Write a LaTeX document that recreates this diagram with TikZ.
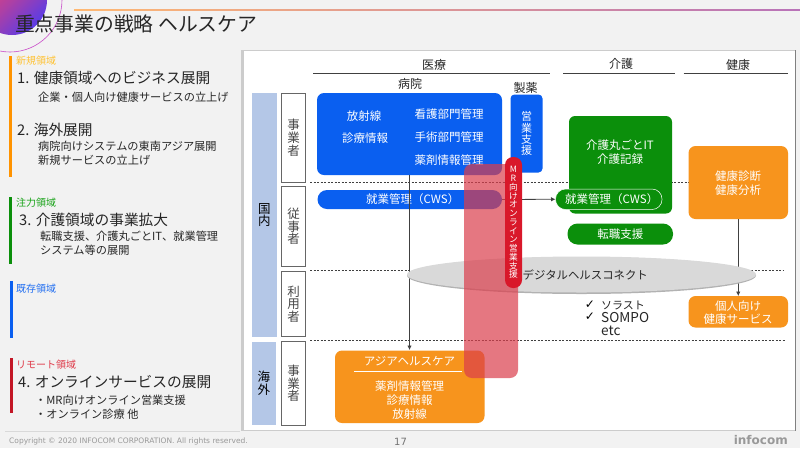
\documentclass[tikz,border=0pt]{standalone}
\usepackage{fontspec}
\setmainfont{Noto Sans CJK JP}
\newfontfamily\latinf{DejaVu Sans}
\usetikzlibrary{arrows.meta,shapes.geometric}
\definecolor{bgc}{HTML}{F2F2F2}
\definecolor{bluec}{HTML}{0A5FF0}
\definecolor{greenc}{HTML}{0B8F0B}
\definecolor{orangec}{HTML}{F7941D}
\definecolor{panelc}{HTML}{B4C7E7}
\definecolor{redc}{HTML}{D9182A}
\definecolor{pinkc}{HTML}{DB3E4C}
\definecolor{darkc}{HTML}{262626}
\definecolor{linec}{HTML}{404040}
\definecolor{hotc}{HTML}{F2436E}
\definecolor{purplec}{HTML}{5A3CE6}
\newcommand{\fs}[1]{\fontsize{#1}{#1}\selectfont}
\newcommand{\fsv}[2]{\fontsize{#1}{#2}\selectfont}
\newcommand{\bx}[7]{\node[#6,anchor=north west,inner sep=0pt,outer sep=0pt,minimum width={(#4-#2)*1pt},minimum height={(#5-#3)*1pt}] (#1) at (#2,#3) {#7};}
\tikzset{
  cattag/.style={anchor=west,inner sep=0pt,font=\fs{10}},
  headtext/.style={anchor=west,inner sep=0pt,font=\fs{14.7},text=darkc},
  subtext/.style={anchor=west,inner sep=0pt,font=\fs{11.2},text=darkc},
  rowbox/.style={draw=black!60,line width=.7pt,fill=white,align=center,text=darkc!85,font=\fsv{12.5}{12.6}},
  regionbox/.style={fill=panelc,align=center,text=black,font=\fsv{12.5}{12.6}},
  blk/.style={fill=bluec,rounded corners=7pt,text=white},
  grn/.style={fill=greenc,rounded corners=6pt,text=white},
  org/.style={fill=orangec,rounded corners=7pt,text=white},
  lbl/.style={inner sep=0pt,text=white,font=\fs{11.5},align=center},
  sect/.style={inner sep=0pt,text=darkc,font=\fs{12}},
  hrule/.style={line width=.8pt,draw=linec},
  dashline/.style={dash pattern=on 2pt off 1.5pt,line width=.6pt,draw=linec},
  arr/.style={line width=.8pt,draw=linec,-{Latex[length=4.5pt,width=4.5pt]}},
}
\begin{document}
\begin{tikzpicture}[x=1pt,y=-1pt]
\useasboundingbox (0,0) rectangle (800,448);
\fill[bgc] (0,0) rectangle (800,448);
% corner ornament
\begin{scope}
\clip (0,0) rectangle (800,448);
\shade[left color=hotc,right color=purplec,middle color=hotc!55!purplec,shading angle=45] (12,0) circle (35);
\draw[violet!60!magenta!70,line width=.6pt] (10,0) circle (52);
\end{scope}
\shade[left color=orange!55,right color=violet!55] (74,9.6) rectangle (800,10.4);
\node[anchor=west,inner sep=0pt,font=\fs{19.8},text=darkc] (title) at (15,24) {重点事業の戦略 ヘルスケア};
% left column bars
\fill[orange!85!yellow] (9,56) rectangle (12,177);
\fill[greenc] (9,197) rectangle (12,264);
\fill[bluec] (10,281) rectangle (13,338);
\fill[redc!90!black] (10,358) rectangle (13,413);
% left texts
\node[cattag,text=orange!60!yellow!80!white] (t1) at (16,61) {新規領域};
\node[headtext] (t2) at (17,78) {1. 健康領域へのビジネス展開};
\node[subtext] (t3) at (38,97) {企業・個人向け健康サービスの立上げ};
\node[headtext] (t4) at (17,130) {2. 海外展開};
\node[subtext] (t5) at (38,146) {病院向けシステムの東南アジア展開};
\node[subtext] (t6) at (38,160.5) {新規サービスの立上げ};
\node[cattag,text=green!60!black!90!white] (t7) at (16,203) {注力領域};
\node[headtext] (t8) at (19,220) {3. 介護領域の事業拡大};
\node[subtext] (t9) at (40,236.5) {転職支援、介護丸ごとIT、就業管理};
\node[subtext] (t10) at (40,250.5) {システム等の展開};
\node[cattag,text=bluec!90] (t11) at (16,289) {既存領域};
\node[cattag,text=redc!85] (t12) at (16,365) {リモート領域};
\node[headtext] (t13) at (18,382) {4. オンラインサービスの展開};
\node[subtext] (t14) at (35,400) {・MR向けオンライン営業支援};
\node[subtext] (t15) at (35,414) {・オンライン診療 他};
% right panel
\fill[black!20] (241,50) rectangle (795,430.5);
\fill[black!50] (795,50) rectangle (796,430.5);
\fill[white] (243.5,51) rectangle (795,429.5);
\draw[black!15,line width=.8pt] (5,431) -- (240,431);
% headers
\node[sect] (h1) at (434,65) {医療};
\node[sect] (h2) at (621,64) {介護};
\node[sect] (h3) at (738,64.5) {健康};
\node[sect] (h4) at (410,84) {病院};
\node[sect] (h5) at (525.5,88) {製薬};
\draw[hrule] (313,73.5) -- (550,73.5);
\draw[hrule] (563,73.5) -- (675,73.5);
\draw[hrule] (683.5,73.5) -- (788,73.5);
% dashed separators
\draw[dashline] (310,182.5) -- (690,182.5);
\draw[dashline] (310,270.5) -- (783,270.5);
\draw[dashline] (310,340) -- (786,340);
% region and row boxes
\bx{dom}{252}{93}{276.5}{337}{regionbox}{国\\内}
\bx{ovs}{251.5}{342}{276}{425}{regionbox}{海\\外}
\bx{r1}{281.5}{93.5}{305.5}{182}{rowbox}{事\\業\\者}
\bx{r2}{281.5}{186}{305.5}{266.5}{rowbox}{従\\事\\者}
\bx{r3}{281.5}{271.5}{305.5}{336.5}{rowbox}{利\\用\\者}
\bx{r4}{281.5}{341.5}{305.5}{425}{rowbox}{事\\業\\者}
% main boxes
\bx{hosp}{317}{93}{502}{175}{blk}{}
\bx{pharma}{510.5}{94.5}{542.5}{172.5}{fill=bluec,rounded corners=4pt,text=white,align=center,font=\fsv{11}{11.3}}{営\\業\\支\\援}
\bx{care}{569}{116}{672}{213.5}{grn}{}
\bx{kenko}{688.5}{146}{788}{219}{org}{}
\bx{kojin}{688.5}{296}{788}{327.5}{org}{}
\bx{cwsb}{317.5}{190}{502}{209}{fill=bluec,rounded corners=9.5pt,text=white,font=\fs{11.5}}{\hspace{6pt}就業管理（CWS）}
\bx{cwsg}{555.5}{189}{662}{209.5}{fill=greenc,draw=white,line width=.5pt,rounded corners=10pt,text=white,font=\fs{11.5}}{\hspace{6pt}就業管理（CWS）}
\bx{tenshoku}{567.5}{223.5}{673}{244.5}{fill=greenc,rounded corners=10pt,text=white,font=\fs{11.5}}{転職支援}
% connectors
\draw[arr] (hosp.south) -- (409.5,350);
\draw[arr] (cwsb.east) -- (cwsg.west);
\draw[arr] (kenko.south) -- (kojin.north);
% ellipse
\fill[black!30] (581.5,275.5) ellipse (174.5 and 18.5);
\node[draw=none,fill=black!15,ellipse,minimum width=349pt,minimum height=36pt,inner sep=0pt] (dhc) at (581.5,274.5) {};
% Asia box
\bx{asia}{335}{350.5}{484.5}{423}{org}{}
\node[lbl] (a1) at (409.5,361) {アジアヘルスケア};
\draw[white,line width=.6pt] (354,371.5) -- (462,371.5);
\node[lbl] (a2) at (409.5,386) {薬剤情報管理};
\node[lbl] (a3) at (409.5,400) {診療情報};
\node[lbl] (a4) at (409.5,414) {放射線};
% hospital labels
\node[lbl] (b1) at (364,116) {放射線};
\node[lbl] (b2) at (365,138.5) {診療情報};
\node[lbl] (b3) at (449,114) {看護部門管理};
\node[lbl] (b4) at (449,137) {手術部門管理};
\node[lbl] (b5) at (449,160) {薬剤情報管理};
% care and health labels
\node[lbl] (c1) at (620,145) {介護丸ごとIT};
\node[lbl] (c2) at (620,159) {介護記録};
\node[lbl] (k1) at (738,176.5) {健康診断};
\node[lbl] (k2) at (738,190.5) {健康分析};
\node[lbl] (k3) at (738,306) {個人向け};
\node[lbl] (k4) at (738,319.5) {健康サービス};
% overlay
\bx{overlay}{464}{164}{518}{378}{fill=pinkc,fill opacity=.7,rounded corners=8pt}{}
\bx{mr}{505}{157}{522}{288}{fill=redc,rounded corners=8pt,text=white,align=center,font=\fsv{8.7}{8.75}}{M\\R\\向\\け\\オ\\ン\\ラ\\イ\\ン\\営\\業\\支\\援}
% ellipse text and list
\node[inner sep=0pt,anchor=west,font=\fs{11.4},text=darkc] (d1) at (522.5,275) {デジタルヘルスコネクト};
\node[inner sep=0pt,anchor=center,font=\latinf\fs{12},text=black] (m1) at (590,305) {✓};
\node[inner sep=0pt,anchor=center,font=\latinf\fs{12},text=black] (m2) at (590,317) {✓};
\node[inner sep=0pt,anchor=west,font=\fs{11},text=darkc] (l1) at (601,305.5) {ソラスト};
\node[inner sep=0pt,anchor=west,font=\fs{13.6},text=darkc] (l2) at (601,318) {SOMPO};
\node[inner sep=0pt,anchor=west,font=\fs{13.6},text=darkc] (l3) at (601,330.5) {etc};
% footer
\node[inner sep=0pt,anchor=west,font=\latinf\fs{7.5},text=black!40] (f1) at (9,441) {Copyright © 2020 INFOCOM CORPORATION. All rights reserved.};
\node[inner sep=0pt,font=\latinf\fs{10},text=black!55] (f2) at (400.5,442) {17};
\node[inner sep=0pt,anchor=east,font=\latinf\bfseries\fs{12},text=black!40] (f3) at (788,440) {infocom};
\end{tikzpicture}
\end{document}
